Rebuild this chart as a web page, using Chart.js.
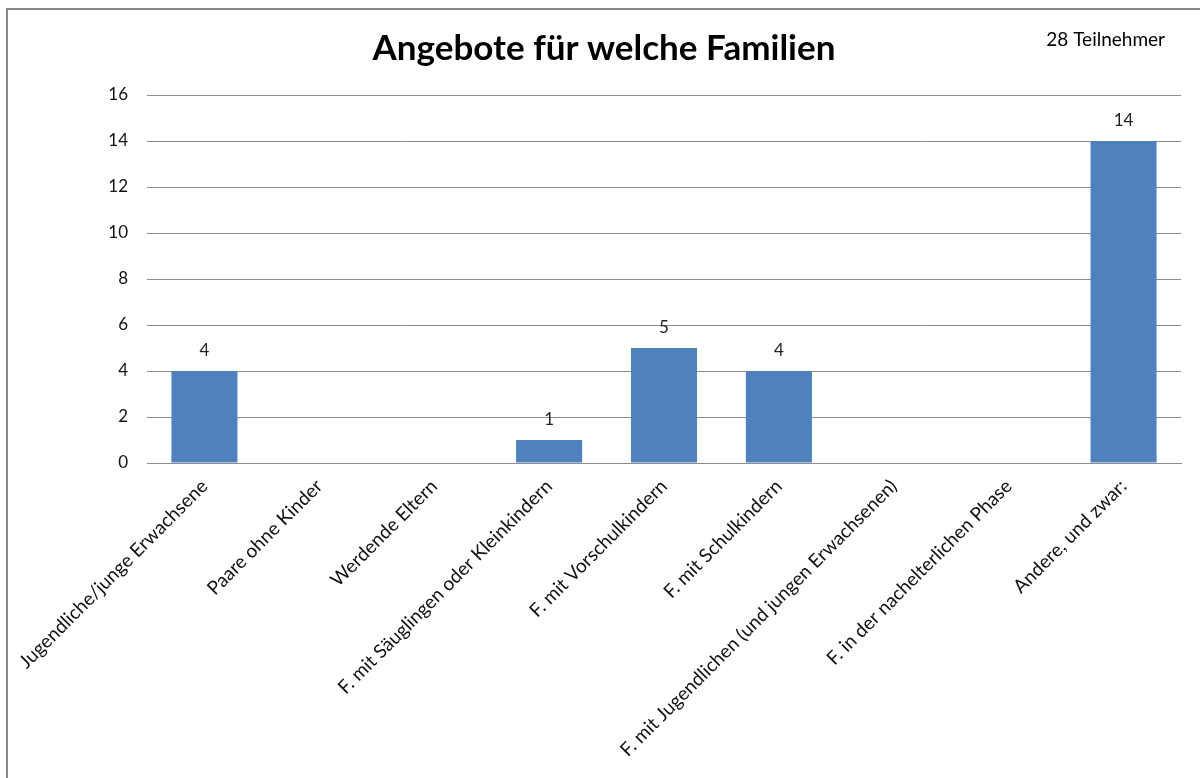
<!DOCTYPE html>
<html>
<head>
<meta charset="utf-8">
<script src="https://cdn.jsdelivr.net/npm/chart.js@4.4.1/dist/chart.umd.min.js"></script>
<style>
html,body{margin:0;padding:0;background:#fff;}
#wrap{position:relative;width:1200px;height:778px;}
</style>
</head>
<body>
<div id="wrap"><canvas id="c" width="1200" height="778"></canvas></div>
<script>
const titleText = "Angebote für welche Familien";
const noteText = "28 Teilnehmer";
const categories = [
  "Jugendliche/junge Erwachsene",
  "Paare ohne Kinder",
  "Werdende Eltern",
  "F. mit Säuglingen oder Kleinkindern",
  "F. mit Vorschulkindern",
  "F. mit Schulkindern",
  "F. mit Jugendlichen (und jungen Erwachsenen)",
  "F. in der nachelterlichen Phase",
  "Andere, und zwar:"
];
const counts = [4, 0, 0, 1, 5, 4, 0, 0, 14];
const yMin = 0, yMax = 16, yStep = 2;

const FONT = "Lato, 'Open Sans', sans-serif";

const decor = {
  id: 'decor',
  beforeDraw(chart) {
    const ctx = chart.ctx;
    ctx.save();
    ctx.fillStyle = '#fff';
    ctx.fillRect(0, 0, chart.width, chart.height);
    ctx.strokeStyle = '#878787';
    ctx.lineWidth = 2;
    ctx.strokeRect(7, 9, 1400, 1000);
    ctx.restore();
  },
  afterDraw(chart) {
    const ctx = chart.ctx;
    ctx.save();
    ctx.fillStyle = '#000';
    ctx.font = "bold 35px " + FONT;
    ctx.textAlign = 'center';
    ctx.textBaseline = 'middle';
    ctx.fillText(titleText, 604, 49);
    ctx.font = "19px " + FONT;
    ctx.textAlign = 'right';
    ctx.fillText(noteText, 1165, 40);
    // data labels
    const meta = chart.getDatasetMeta(0);
    ctx.font = "17px " + FONT;
    ctx.textAlign = 'center';
    ctx.textBaseline = 'middle';
    ctx.fillStyle = '#222';
    meta.data.forEach((bar, i) => {
      const v = counts[i];
      if (!v) return;
      ctx.fillText(String(v), bar.x, bar.y - 20);
    });
    ctx.restore();
  }
};

new Chart(document.getElementById('c'), {
  type: 'bar',
  data: {
    labels: categories,
    datasets: [{
      data: counts,
      backgroundColor: '#4F81BD',
      borderWidth: 0,
      categoryPercentage: 1.0,
      barPercentage: 0.575
    }]
  },
  options: {
    responsive: false,
    animation: false,
    devicePixelRatio: 1,
    layout: { padding: { top: 95, right: 19, left: 0, bottom: 0 } },
    plugins: { legend: { display: false }, tooltip: { enabled: false }, title: { display: false } },
    scales: {
      x: {
        grid: { display: false, drawTicks: false },
        border: { display: true, color: '#8c8c8c', width: 1 },
        ticks: {
          minRotation: 45, maxRotation: 45, autoSkip: false,
          color: '#111', padding: 12,
          font: { family: FONT, size: 19 }
        },
        afterFit(scale) { scale.height = 778 - 463; }
      },
      y: {
        min: yMin, max: yMax,
        ticks: {
          stepSize: yStep, color: '#111', padding: 19,
          font: { family: FONT, size: 17 }
        },
        grid: { color: '#8c8c8c', drawTicks: false, lineWidth: 1 },
        border: { display: false },
        afterFit(scale) { scale.width = 147; }
      }
    }
  },
  plugins: [decor]
});
</script>
</body>
</html>
